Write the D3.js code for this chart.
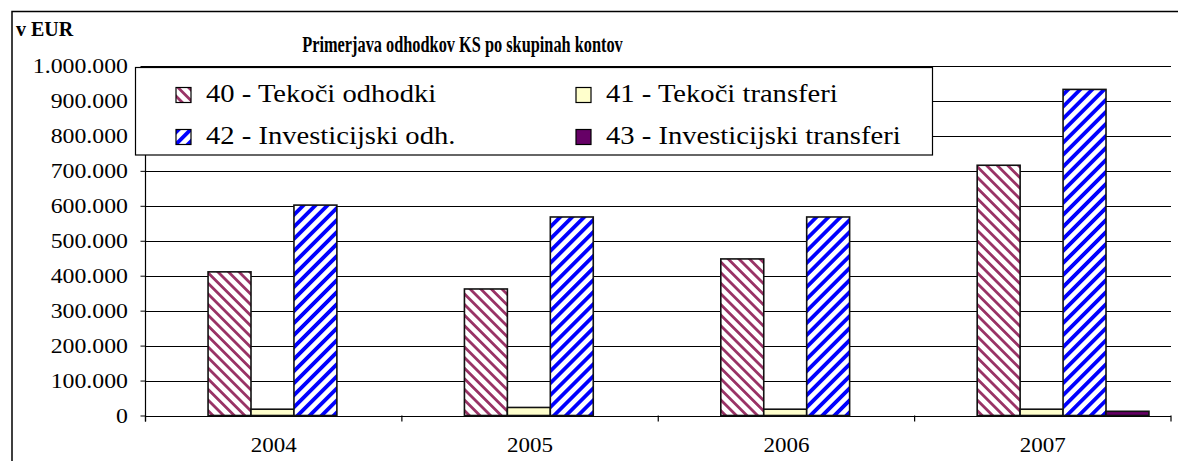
<!DOCTYPE html>
<html>
<head>
<meta charset="utf-8">
<script src="https://cdn.jsdelivr.net/npm/d3@7"></script>
<style>
  html, body { margin: 0; padding: 0; background: #fff; }
  svg { display: block; }
</style>
</head>
<body>
<svg id="chart" width="1178" height="461"></svg>
<script>
// Expenditure by account group (EUR)
const years = ["2004", "2005", "2006", "2007"];
const seriesKeys = ["s40", "s41", "s42", "s43"];
const seriesNames = [
  "40 - Tekoči odhodki",
  "41 - Tekoči transferi",
  "42 - Investicijski odh.",
  "43 - Investicijski transferi"
];
const s40 = [411000, 362000, 448000, 716000];
const s41 = [18000, 23000, 18000, 18000];
const s42 = [602000, 568000, 568000, 933000];
const s43 = [0, 0, 0, 12000];
const yTicks = [0, 100000, 200000, 300000, 400000, 500000, 600000, 700000, 800000, 900000, 1000000];
const titleText = "Primerjava odhodkov KS po skupinah kontov";
const unitText = "v EUR";

const seriesValues = { s40, s41, s42, s43 };

const SERIF = "'Liberation Serif', 'Times New Roman', serif";
const svg = d3.select("#chart");
const W = 1178, H = 461;
const plot = { left: 145.5, right: 1171, top: 66, bottom: 415.5 };

const fmt = d3.formatLocale({ decimal: ",", thousands: ".", grouping: [3], currency: ["", " €"] }).format(",");

// hatch patterns
const defs = svg.append("defs");
function hatch(id, color, angle, period, stripe) {
  const p = defs.append("pattern")
    .attr("id", id)
    .attr("patternUnits", "userSpaceOnUse")
    .attr("width", period).attr("height", period)
    .attr("patternTransform", `rotate(${angle})`);
  p.append("rect").attr("width", period).attr("height", period).attr("fill", "#fff");
  p.append("rect").attr("width", stripe).attr("height", period).attr("fill", color);
}
hatch("hatch40", "#993366", -45, 7.5, 2.8);
hatch("hatch42", "#0000ff", 45, 8.5, 3.8);

const fills = {
  s40: "url(#hatch40)",
  s41: "#ffffcc",
  s42: "url(#hatch42)",
  s43: "#660066"
};

// outer chart frame (extends past the window on right and bottom)
svg.append("rect")
  .attr("x", 12).attr("y", 11.5)
  .attr("width", W + 20).attr("height", H + 20)
  .attr("fill", "#fff").attr("stroke", "#000").attr("stroke-width", 1.5);

// scales
const y = d3.scaleLinear().domain([0, 1000000]).range([plot.bottom, plot.top]);
const x0 = d3.scaleBand().domain(years).range([plot.left, plot.right]).padding(0);
const bw = x0.bandwidth();
const x1 = d3.scaleBand().domain(seriesKeys).range([bw * 0.244, bw * 0.914]).padding(0);

// gridlines
svg.append("g").selectAll("line")
  .data(yTicks)
  .join("line")
  .attr("x1", plot.left).attr("x2", plot.right)
  .attr("y1", d => Math.round(y(d)) + 0.5).attr("y2", d => Math.round(y(d)) + 0.5)
  .attr("stroke", "#000").attr("stroke-width", 1);

// y axis
const yAxis = svg.append("g")
  .attr("transform", `translate(${plot.left},0)`)
  .call(d3.axisLeft(y).tickValues(yTicks).tickSize(5).tickFormat(d => fmt(d)));
yAxis.attr("font-family", null).attr("font-size", null);
yAxis.select(".domain").remove();
yAxis.selectAll(".tick line").attr("stroke", "#000");
const ySx = 1.19;
yAxis.selectAll(".tick text")
  .style("font-family", SERIF)
  .style("font-size", "20px")
  .attr("fill", "#000")
  .attr("x", -17.5 / ySx)
  .attr("dy", "0.33em")
  .attr("transform", `scale(${ySx},1)`);
svg.append("line")
  .attr("x1", plot.left).attr("x2", plot.left)
  .attr("y1", plot.top).attr("y2", plot.bottom + 6)
  .attr("stroke", "#000").attr("stroke-width", 1.2);

// x axis labels and category boundary ticks
const xAxis = svg.append("g")
  .attr("transform", `translate(0,${plot.bottom})`)
  .call(d3.axisBottom(x0).tickSize(0).tickPadding(0));
xAxis.attr("font-family", null).attr("font-size", null);
xAxis.select(".domain").remove();
const xSx = 1.15;
xAxis.selectAll(".tick").each(function () {
  const t = d3.select(this);
  const tx = +t.attr("transform").match(/translate\(([^,]+)/)[1];
  t.attr("transform", `translate(${tx},0)`);
});
xAxis.selectAll(".tick text")
  .style("font-family", SERIF)
  .style("font-size", "20px")
  .attr("fill", "#000")
  .attr("y", 36.5)
  .attr("dy", 0)
  .attr("transform", `scale(${xSx},1)`);
const boundaries = years.map(d => x0(d) + bw).concat([x0(years[0])]);
svg.append("g").selectAll("line")
  .data(boundaries)
  .join("line")
  .attr("x1", d => d).attr("x2", d => d)
  .attr("y1", plot.bottom).attr("y2", plot.bottom + 6)
  .attr("stroke", "#000").attr("stroke-width", 1.2);

// bars
const rows = years.map((yr, i) => ({ year: yr, vals: seriesKeys.map(k => ({ key: k, value: seriesValues[k][i] })) }));
svg.append("g").selectAll("g")
  .data(rows)
  .join("g")
  .attr("transform", d => `translate(${x0(d.year)},0)`)
  .selectAll("rect")
  .data(d => d.vals.filter(v => v.value > 0))
  .join("rect")
  .attr("x", d => x1(d.key))
  .attr("width", x1.bandwidth())
  .attr("y", d => y(d.value))
  .attr("height", d => y(0) - y(d.value))
  .attr("fill", d => fills[d.key])
  .attr("stroke", "#111")
  .attr("stroke-width", 1.6);

// legend
const legend = svg.append("g");
legend.append("rect")
  .attr("x", 135.5).attr("y", 67.5)
  .attr("width", 797).attr("height", 87.5)
  .attr("fill", "#fff").attr("stroke", "#000").attr("stroke-width", 1.2);
const legCols = [176, 576];
const legRows = [87.5, 129.5];
const legSx = 1.1;
const items = legend.selectAll("g.item")
  .data(seriesKeys.map((k, i) => ({ key: k, name: seriesNames[i], col: i % 2, row: Math.floor(i / 2) })))
  .join("g")
  .attr("class", "item")
  .attr("transform", d => `translate(${legCols[d.col]},${legRows[d.row]})`);
items.append("rect")
  .attr("width", 15).attr("height", 15)
  .attr("fill", d => fills[d.key])
  .attr("stroke", "#000").attr("stroke-width", 1.2);
items.append("text")
  .attr("transform", `translate(30,14.5) scale(${legSx},1)`)
  .style("font-family", SERIF)
  .style("font-size", "26px")
  .attr("fill", "#000")
  .text(d => d.name);

// title and unit label
svg.append("text")
  .attr("transform", `translate(462.5,52) scale(0.68,1)`)
  .attr("text-anchor", "middle")
  .style("font-family", SERIF)
  .style("font-size", "24px")
  .style("font-weight", "bold")
  .attr("fill", "#000")
  .text(titleText);
svg.append("text")
  .attr("x", 16).attr("y", 36)
  .style("font-family", SERIF)
  .style("font-size", "20px")
  .style("font-weight", "bold")
  .attr("fill", "#000")
  .text(unitText);
</script>
</body>
</html>
